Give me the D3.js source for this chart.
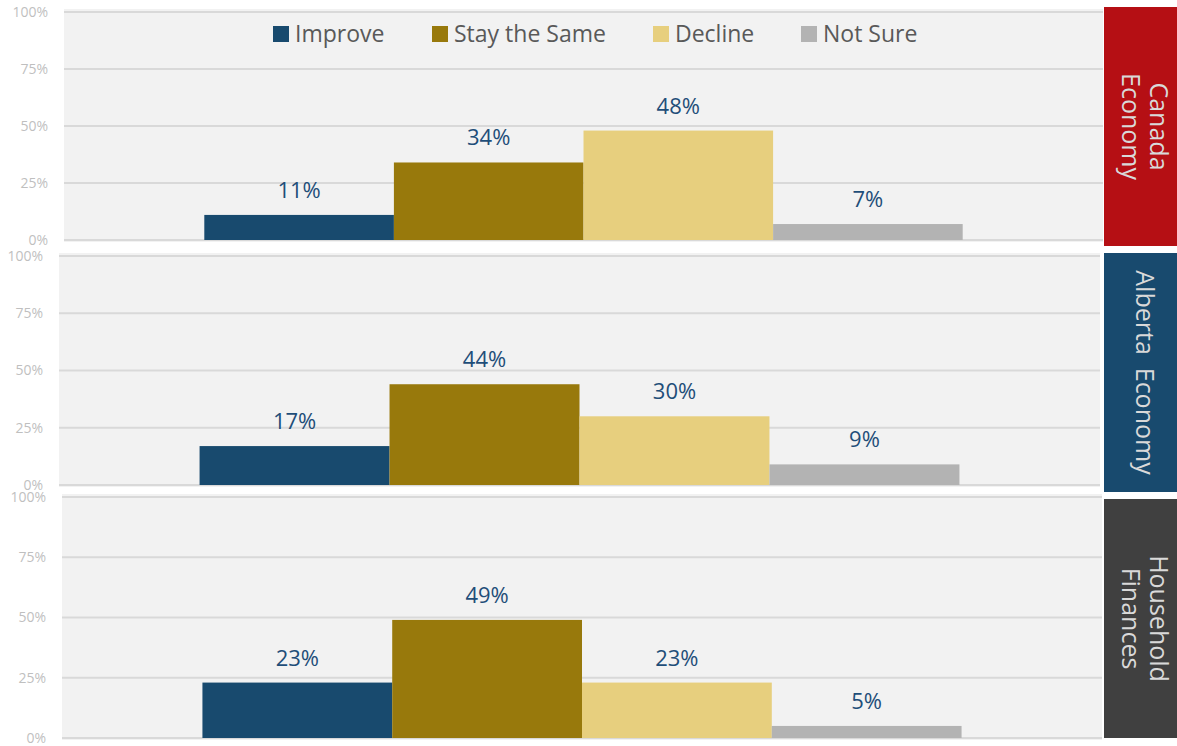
<!DOCTYPE html>
<html>
<head>
<meta charset="utf-8">
<script src="https://cdn.jsdelivr.net/npm/d3@7"></script>
<style>
  body { margin: 0; background: #ffffff; }
  svg { display: block; font-family: "Open Sans", "Noto Sans", sans-serif; }
</style>
</head>
<body>
<svg id="chart" width="1177" height="746"></svg>
<script>

// data
var series = ["Improve", "Stay the Same", "Decline", "Not Sure"];
var panelNames = [["Canada", "Economy"], ["Alberta  Economy"], ["Household", "Finances"]];
var canadaValues = [11, 34, 48, 7];
var albertaValues = [17, 44, 30, 9];
var householdValues = [23, 49, 23, 5];
var tickValues = [0, 25, 50, 75, 100];

var colors = ["#184a6e", "#98790c", "#e7cf7e", "#b3b3b3"];
var boxColors = ["#b50f14", "#184a6e", "#404040"];

// layout of each panel (plot area + side box)
var panelLayout = [
    { top: 12, bottom: 240, left: 64, right: 1103, boxTop: 7, boxBottom: 246 },
    { top: 256, bottom: 485, left: 59, right: 1100, boxTop: 253, boxBottom: 492 },
    { top: 497, bottom: 738, left: 62, right: 1102, boxTop: 499, boxBottom: 738 }
];
var allValues = [canadaValues, albertaValues, householdValues];

var svg = d3.select("#chart");

function drawPanel(i) {
    var p = panelLayout[i];
    var values = allValues[i];

    var y = d3.scaleLinear().domain([0, 100]).range([p.bottom, p.top]);
    var outer = d3.scaleBand().domain(["all"]).range([p.left, p.right]).paddingOuter(0.185).paddingInner(0);
    var x = d3.scaleBand().domain(series).range([outer("all"), outer("all") + outer.bandwidth()]).padding(0);

    var g = svg.append("g");

    g.append("rect")
        .attr("x", p.left)
        .attr("y", p.top - 3)
        .attr("width", p.right - p.left)
        .attr("height", p.bottom - p.top + 5)
        .attr("fill", "#f2f2f2");

    // gridlines
    g.selectAll(".grid")
        .data(tickValues)
        .enter().append("line")
        .attr("x1", p.left)
        .attr("x2", p.right)
        .attr("y1", function (d) { return y(d); })
        .attr("y2", function (d) { return y(d); })
        .attr("stroke", "#d9d9d9")
        .attr("stroke-width", 2);

    var axis = d3.axisLeft(y).tickValues(tickValues).tickSize(0).tickPadding(0)
        .tickFormat(function (d) { return d + "%"; });
    var ax = g.append("g")
        .attr("transform", "translate(" + (p.left - 16) + ",0)")
        .call(axis);
    ax.select(".domain").remove();
    ax.selectAll("text")
        .attr("fill", "#bfbfbf")
        .style("font-size", "14px")
        .style("font-family", "'Open Sans', sans-serif");

    // bars
    g.selectAll(".bar")
        .data(values)
        .enter().append("rect")
        .attr("x", function (d, j) { return x(series[j]); })
        .attr("y", function (d) { return y(d); })
        .attr("width", x.bandwidth())
        .attr("height", function (d) { return y(0) - y(d); })
        .attr("fill", function (d, j) { return colors[j]; });

    g.selectAll(".val")
        .data(values)
        .enter().append("text")
        .attr("x", function (d, j) { return x(series[j]) + x.bandwidth() / 2; })
        .attr("y", function (d) { return y(d) - 17; })
        .attr("text-anchor", "middle")
        .attr("fill", "#1f4e79")
        .style("font-size", "22px")
        .text(function (d) { return d + "%"; });

    // side box
    var bx = 1104, bw = 73;
    g.append("rect")
        .attr("x", bx)
        .attr("y", p.boxTop)
        .attr("width", bw)
        .attr("height", p.boxBottom - p.boxTop)
        .attr("fill", boxColors[i]);

    var cy = (p.boxTop + p.boxBottom) / 2;
    var lines = panelNames[i];
    var lh = 28;
    var txt = g.append("text")
        .attr("transform", "translate(" + (bx + bw / 2) + "," + cy + ") rotate(90)")
        .attr("text-anchor", "middle")
        .attr("fill", "#d9d9d9")
        .style("font-size", "25px")
        .style("white-space", "pre");
    lines.forEach(function (s, k) {
        txt.append("tspan")
            .attr("x", 0)
            .attr("y", (k - (lines.length - 1) / 2) * lh + 4.5)
            .text(s);
    });
}

for (var i = 0; i < panelLayout.length; i++) {
    drawPanel(i);
}

// legend
var legendX = [273, 432, 653, 801];
var legend = svg.append("g");
series.forEach(function (s, j) {
    legend.append("rect")
        .attr("x", legendX[j])
        .attr("y", 26)
        .attr("width", 16)
        .attr("height", 16)
        .attr("fill", colors[j]);
    legend.append("text")
        .attr("x", legendX[j] + 22)
        .attr("y", 42)
        .attr("fill", "#595959")
        .style("font-size", "23px")
        .text(s);
});

</script>
</body>
</html>
